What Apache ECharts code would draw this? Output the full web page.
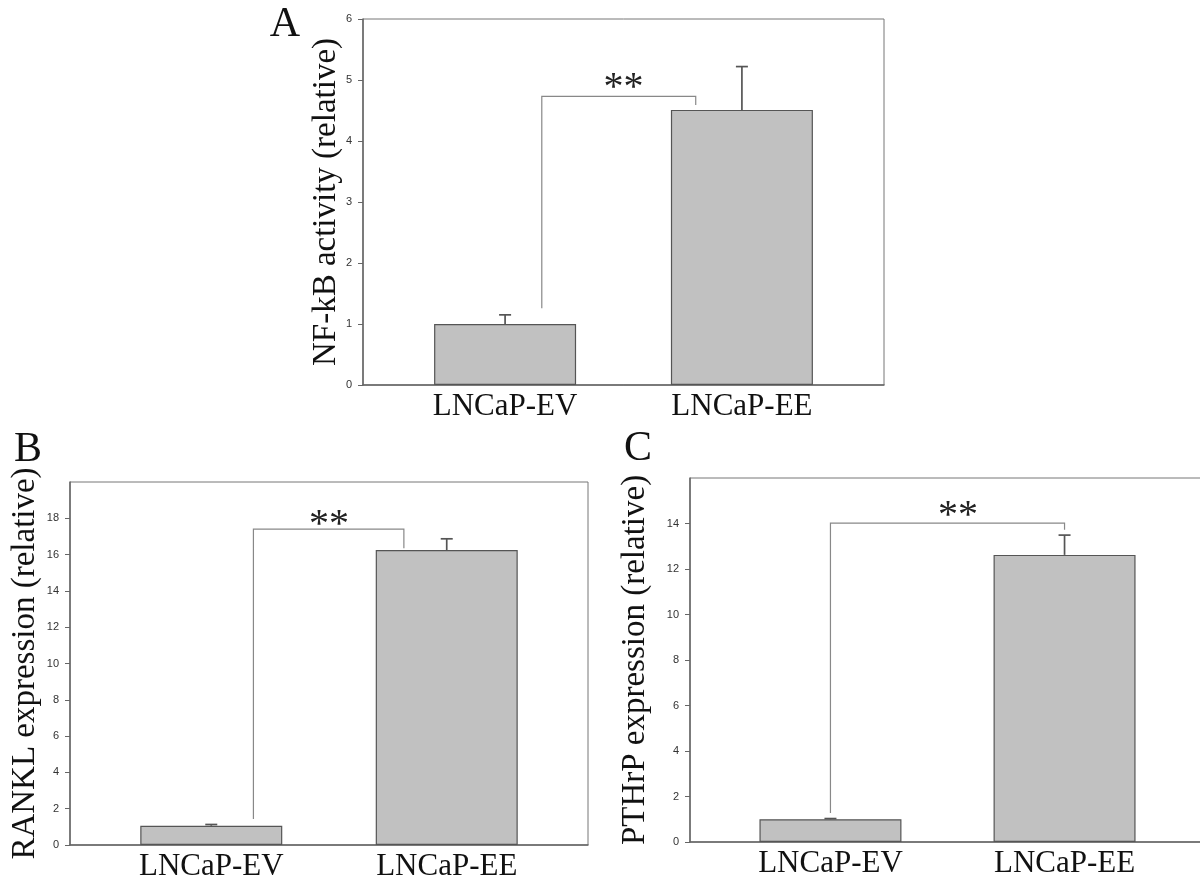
<!DOCTYPE html>
<html>
<head>
<meta charset="utf-8">
<script src="https://cdn.jsdelivr.net/npm/echarts@6/dist/echarts.min.js"></script>
<style>
html,body{margin:0;padding:0;background:#fff;}
#chart{width:1200px;height:879px;}
</style>
</head>
<body>
<div id="chart"></div>
<script>
// ---- data ----
const categories = ['LNCaP-EV', 'LNCaP-EE'];
const catIndex = [0, 1];

const nfkbMean = [1.0, 4.51];
const nfkbSE = [0.15, 0.71];
const ranklMean = [1.06, 16.25];
const ranklSE = [0.07, 0.62];
const pthrpMean = [1.0, 12.62];
const pthrpSE = [0.03, 0.87];

// bracket: [xLeft, yLeftBottom, xRight, yRightBottom, yTop]
const bracketA = [0.155, 1.26, 0.805, 4.59, 4.73];
const bracketB = [0.179, 1.43, 0.818, 16.35, 17.4];
const bracketC = [0.0, 1.28, 1.0, 13.73, 14.02];
// star label position [x, y]
const starA = [0.5, 4.97];
const starB = [0.5, 18.0];
const starC = [0.545, 14.6];
const starText = '**';

const ticksA = [0, 1, 2, 3, 4, 5, 6];
const ticksB = [0, 2, 4, 6, 8, 10, 12, 14, 16, 18];
const ticksC = [0, 2, 4, 6, 8, 10, 12, 14];

const titleA = 'NF-kB activity (relative)';
const titleB = 'RANKL expression (relative)';
const titleC = 'PTHrP expression (relative)';
const panelLetters = ['A', 'B', 'C'];

// ---- chart ----
const chart = echarts.init(document.getElementById('chart'), null, {renderer: 'canvas'});
const SERIF = '"Liberation Serif", "Times New Roman", serif';
const SANS = '"Liberation Sans", Arial, sans-serif';

function xAxisFor(gi, margin) {
  return {
    type: 'value', gridIndex: gi, min: -0.6, max: 1.6,
    axisLine: {show: true, onZero: false, lineStyle: {color: '#666', width: 1.5}},
    axisTick: {show: false},
    splitLine: {show: false},
    axisLabel: {
      customValues: catIndex,
      formatter: v => categories[Math.round(v)],
      fontFamily: SERIF, fontSize: 31, color: '#111', margin: margin
    }
  };
}
function yAxisFor(gi, max, ticks, name, gap) {
  return {
    type: 'value', gridIndex: gi, min: 0, max: max,
    name: name, nameLocation: 'middle', nameGap: gap, nameMoveOverlap: false,
    nameTextStyle: {fontFamily: SERIF, fontSize: 33, color: '#111'},
    axisLine: {show: true, onZero: false, lineStyle: {color: '#666', width: 1.5}},
    axisTick: {show: true, length: 5, customValues: ticks, lineStyle: {color: '#666'}},
    splitLine: {show: false},
    axisLabel: {customValues: ticks, fontFamily: SANS, fontSize: 11, color: '#333', margin: 11}
  };
}
function barSeries(gi, mean) {
  return {
    type: 'bar', xAxisIndex: gi, yAxisIndex: gi,
    data: catIndex.map((c, i) => [c, mean[i]]),
    barWidth: 142,
    itemStyle: {color: '#c1c1c1', borderColor: '#555', borderWidth: 1.2},
    silent: true, animation: false, z: 2
  };
}
function errSeries(gi, mean, se) {
  return {
    type: 'custom', xAxisIndex: gi, yAxisIndex: gi,
    data: catIndex.map((c, i) => [c, mean[i], mean[i] + se[i]]),
    encode: {x: 0, y: [1, 2]},
    renderItem: function (params, api) {
      const b = api.coord([api.value(0), api.value(1)]);
      const t = api.coord([api.value(0), api.value(2)]);
      const style = {stroke: '#555', lineWidth: 1.7};
      return {type: 'group', children: [
        {type: 'line', shape: {x1: b[0], y1: b[1], x2: t[0], y2: t[1]}, style: style},
        {type: 'line', shape: {x1: t[0] - 6, y1: t[1], x2: t[0] + 6, y2: t[1]}, style: style}
      ]};
    },
    silent: true, animation: false, z: 3
  };
}
function bracketSeries(gi, br, star) {
  return {
    type: 'custom', xAxisIndex: gi, yAxisIndex: gi,
    data: [[br[0], br[1], br[2], br[3], br[4], star[0], star[1]]],
    encode: {x: [0, 2], y: [1, 3, 4]},
    renderItem: function (params, api) {
      const p1 = api.coord([api.value(0), api.value(1)]);
      const p2 = api.coord([api.value(0), api.value(4)]);
      const p3 = api.coord([api.value(2), api.value(4)]);
      const p4 = api.coord([api.value(2), api.value(3)]);
      const s = api.coord([api.value(5), api.value(6)]);
      return {type: 'group', children: [
        {type: 'polyline', shape: {points: [p1, p2, p3, p4]}, style: {stroke: '#888', lineWidth: 1.2, fill: null}},
        {type: 'text', style: {x: s[0], y: s[1] + 7, text: starText, fill: '#222',
          font: '40px ' + SERIF, align: 'center', verticalAlign: 'middle'}}
      ]};
    },
    silent: true, animation: false, z: 4
  };
}

const gridBase = {show: true, borderColor: '#777', borderWidth: 1, backgroundColor: 'transparent', outerBoundsMode: 'none', containLabel: false};

const option = {
  backgroundColor: '#ffffff',
  animation: false,
  grid: [
    Object.assign({left: 363, top: 19, width: 521, height: 366}, gridBase),
    Object.assign({left: 70, top: 482, width: 518, height: 363}, gridBase),
    Object.assign({left: 690, top: 478, width: 515, height: 364}, gridBase)
  ],
  xAxis: [xAxisFor(0, 6), xAxisFor(1, 6), xAxisFor(2, 6)],
  yAxis: [
    yAxisFor(0, 6, ticksA, titleA, 20),
    yAxisFor(1, 20, ticksB, titleB, 28),
    yAxisFor(2, 16, ticksC, titleC, 38)
  ],
  graphic: [
    {type: 'text', x: 285, y: 25, style: {text: panelLetters[0], font: '42px ' + SERIF, fill: '#111', align: 'center', verticalAlign: 'middle'}},
    {type: 'text', x: 28, y: 450, style: {text: panelLetters[1], font: '42px ' + SERIF, fill: '#111', align: 'center', verticalAlign: 'middle'}},
    {type: 'text', x: 638, y: 449, style: {text: panelLetters[2], font: '42px ' + SERIF, fill: '#111', align: 'center', verticalAlign: 'middle'}}
  ],
  series: [
    barSeries(0, nfkbMean), errSeries(0, nfkbMean, nfkbSE), bracketSeries(0, bracketA, starA),
    barSeries(1, ranklMean), errSeries(1, ranklMean, ranklSE), bracketSeries(1, bracketB, starB),
    barSeries(2, pthrpMean), errSeries(2, pthrpMean, pthrpSE), bracketSeries(2, bracketC, starC)
  ]
};
chart.setOption(option);
</script>
</body>
</html>
